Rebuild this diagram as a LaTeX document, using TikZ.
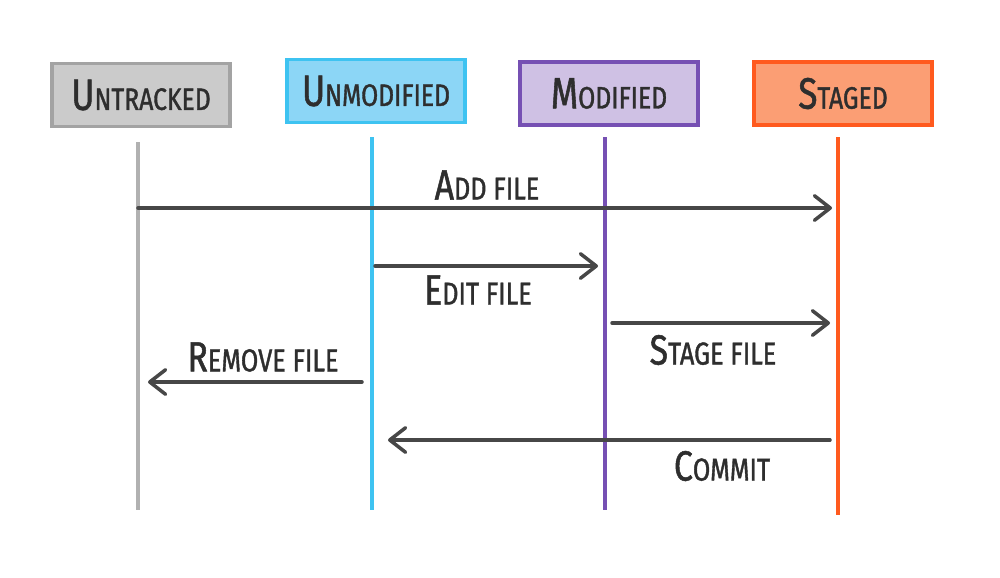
\documentclass[tikz,border=0pt]{standalone}
\usepackage{fontspec}
\newfontfamily\handfont[FakeStretch=0.8,FakeBold=1.2]{Fira Sans}
\usetikzlibrary{arrows.meta}
\definecolor{untrackedfill}{HTML}{CBCBCB}
\definecolor{untrackedline}{HTML}{A3A3A3}
\definecolor{unmodifiedfill}{HTML}{8CD6F6}
\definecolor{unmodifiedline}{HTML}{3EC3F1}
\definecolor{modifiedfill}{HTML}{CFC1E4}
\definecolor{modifiedline}{HTML}{7650B3}
\definecolor{stagedfill}{HTML}{FB9E74}
\definecolor{stagedline}{HTML}{FF5A1E}
\definecolor{inkdark}{HTML}{2E2E2E}
\definecolor{arrowdark}{HTML}{474747}
\newcommand{\headtext}[2]{{\fontsize{12.5pt}{14pt}\selectfont #1}{\fontsize{8.8pt}{10pt}\selectfont #2}}
\newcommand{\msgtext}[2]{{\fontsize{12pt}{14pt}\selectfont #1}{\fontsize{9pt}{10pt}\selectfont #2}}

\begin{document}
\begin{tikzpicture}[>={Straight Barb[length=4.5pt,width=7pt,round]},
  state/.style={draw, line width=1pt, minimum width=1.78cm, minimum height=0.63cm, inner sep=0pt, font=\handfont, text=inkdark},
  life/.style={line width=1pt},
  msg/.style={->, line width=1pt, draw=arrowdark, line cap=round},
  lbl/.style={font=\handfont, text=inkdark, inner sep=0pt}]
  \useasboundingbox (0,0) rectangle (10,-5.77);
  \node[state, draw=untrackedline, fill=untrackedfill] (untracked) at (1.41,-0.95) {\headtext{U}{NTRACKED}};
  \node[state, draw=unmodifiedline, fill=unmodifiedfill] (unmodified) at (3.76,-0.91) {\headtext{U}{NMODIFIED}};
  \node[state, draw=modifiedline, fill=modifiedfill] (modified) at (6.09,-0.935) {\headtext{M}{ODIFIED}};
  \node[state, draw=stagedline, fill=stagedfill] (staged) at (8.43,-0.935) {\headtext{S}{TAGED}};
  \coordinate (untracked-top) at (1.38,-1.42);
  \coordinate (untracked-bottom) at (1.38,-5.10);
  \coordinate (unmodified-top) at (3.72,-1.37);
  \coordinate (unmodified-bottom) at (3.72,-5.10);
  \coordinate (modified-top) at (6.05,-1.37);
  \coordinate (modified-bottom) at (6.05,-5.10);
  \coordinate (staged-top) at (8.38,-1.37);
  \coordinate (staged-bottom) at (8.38,-5.15);
  \draw[life, untrackedline!85] (untracked-top) -- (untracked-bottom);
  \draw[life, unmodifiedline] (unmodified-top) -- (unmodified-bottom);
  \draw[life, modifiedline] (modified-top) -- (modified-bottom);
  \draw[life, stagedline] (staged-top) -- (staged-bottom);
  \coordinate (add-from) at (1.38,-2.08);
  \coordinate (add-to) at (8.32,-2.08);
  \coordinate (edit-from) at (3.75,-2.66);
  \coordinate (edit-to) at (5.98,-2.66);
  \coordinate (stage-from) at (6.12,-3.23);
  \coordinate (stage-to) at (8.30,-3.23);
  \coordinate (remove-from) at (3.62,-3.82);
  \coordinate (remove-to) at (1.48,-3.82);
  \coordinate (commit-from) at (8.30,-4.40);
  \coordinate (commit-to) at (3.88,-4.40);
  \draw[msg] (add-from) -- (add-to);
  \draw[msg] (edit-from) -- (edit-to);
  \draw[msg] (stage-from) -- (stage-to);
  \draw[msg] (remove-from) -- (remove-to);
  \draw[msg] (commit-from) -- (commit-to);
  \node[lbl] (add-label) at (4.87,-1.85) {\msgtext{A}{DD FILE}};
  \node[lbl] (edit-label) at (4.78,-2.90) {\msgtext{E}{DIT FILE}};
  \node[lbl] (stage-label) at (7.13,-3.50) {\msgtext{S}{TAGE FILE}};
  \node[lbl] (remove-label) at (2.63,-3.57) {\msgtext{R}{EMOVE FILE}};
  \node[lbl] (commit-label) at (7.22,-4.66) {\msgtext{C}{OMMIT}};
\end{tikzpicture}
\end{document}
